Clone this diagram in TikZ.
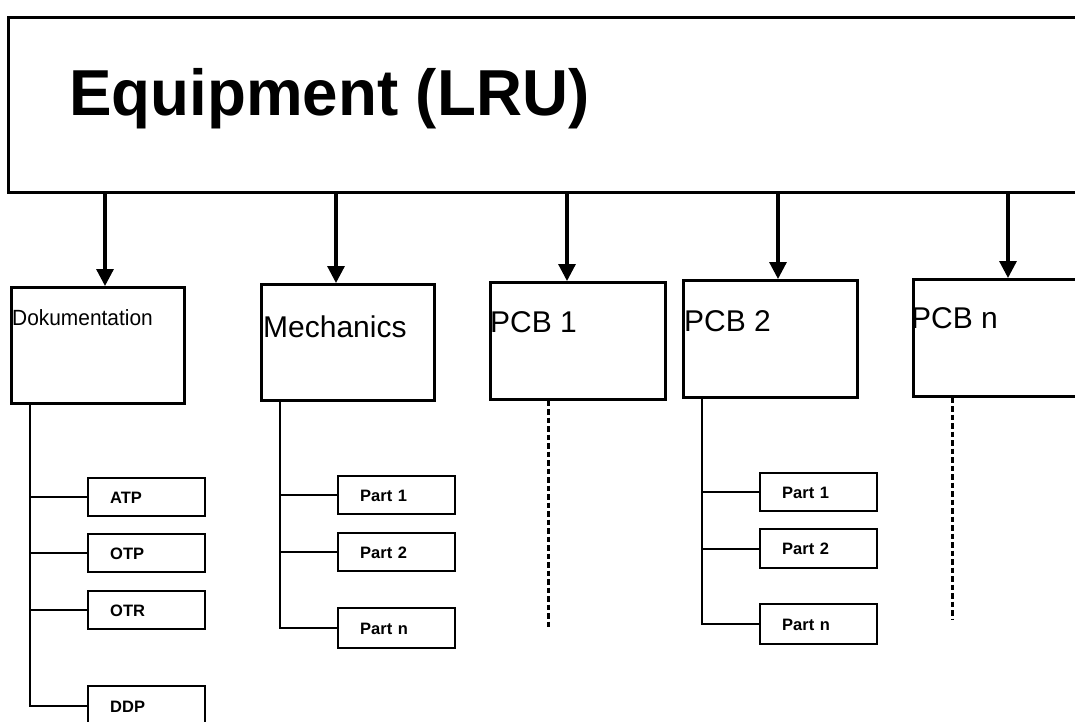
\documentclass[tikz,border=0pt]{standalone}
\usepackage{graphicx}
\usepackage{fontspec}
\setmainfont{Liberation Sans}
\usetikzlibrary{arrows.meta}
\begin{document}
\begin{tikzpicture}[x=1pt,y=-1pt,
  box/.style={draw, line width=2.6pt, rectangle, inner sep=0pt, anchor=north west},
  sub/.style={draw, line width=2.4pt, rectangle, anchor=north west, minimum height=38pt,
    inner xsep=22pt, inner ysep=0pt, text width=73pt, align=left,
    font=\bfseries\fontsize{16.5}{16.5}\selectfont, text height=12pt, text depth=0pt},
  arr/.style={line width=3.2pt, -{Triangle[length=17pt,width=17pt]}},
  tree/.style={line width=2.4pt},
  dots/.style={line width=3pt, dash pattern=on 5.5pt off 3pt},
  lbl/.style={anchor=base west, inner sep=0pt, font=\fontsize{30}{30}\selectfont}
]
\useasboundingbox (0,0) rectangle (1075,721);
\clip (0,0) rectangle (1075,721);
\fill[white] (0,0) rectangle (1075,721);

% top box
\node[box, minimum width=1100pt, minimum height=175pt] (lru) at (7,16) {};
\node[anchor=base west, inner sep=0pt, font=\bfseries\fontsize{65}{65}\selectfont] (title) at (69,115) {\scalebox{0.98}[1]{Equipment (LRU)}};

% second level boxes
\node[box, minimum width=173pt, minimum height=116pt] (doc) at (10,286) {};
\node[box, minimum width=173pt, minimum height=116pt] (mech) at (260,283) {};
\node[box, minimum width=175pt, minimum height=117pt] (pcb1) at (489,281) {};
\node[box, minimum width=174pt, minimum height=117pt] (pcb2) at (682,279) {};
\node[box, minimum width=200pt, minimum height=117pt] (pcbn) at (912,278) {};

\node[lbl, font=\fontsize{22}{22}\selectfont] (docL) at (12,325) {\scalebox{0.95}[1]{Dokumentation}};
\node[lbl] (mechL) at (263,337) {Mechanics};
\node[lbl] (pcb1L) at (490,332) {PCB 1};
\node[lbl] (pcb2L) at (684,331) {PCB 2};
\node[lbl] (pcbnL) at (911,328) {PCB n};

% arrows
\draw[arr] (105,0 |- lru.south) -- (105,0 |- doc.north);
\draw[arr] (336,0 |- lru.south) -- (336,0 |- mech.north);
\draw[arr] (567,0 |- lru.south) -- (567,0 |- pcb1.north);
\draw[arr] (778,0 |- lru.south) -- (778,0 |- pcb2.north);
\draw[arr] (1008,0 |- lru.south) -- (1008,0 |- pcbn.north);

% documentation subtree
\node[sub] (atp) at (87,477) {ATP};
\node[sub] (otp) at (87,533) {OTP};
\node[sub] (otr) at (87,590) {OTR};
\node[sub, minimum height=40pt] (ddp) at (87,685) {DDP};
\draw[tree] (30,0 |- doc.south) |- (ddp.west);
\draw[tree] (30,0 |- atp.west) -- (atp.west);
\draw[tree] (30,0 |- otp.west) -- (otp.west);
\draw[tree] (30,0 |- otr.west) -- (otr.west);

% mechanics subtree
\node[sub] (m1) at (337,475) {Part 1};
\node[sub] (m2) at (337,532) {Part 2};
\node[sub, minimum height=40pt] (mn) at (337,607) {Part n};
\draw[tree] (280,0 |- mech.south) |- (mn.west);
\draw[tree] (280,0 |- m1.west) -- (m1.west);
\draw[tree] (280,0 |- m2.west) -- (m2.west);

% PCB 2 subtree
\node[sub] (q1) at (759,472) {Part 1};
\node[sub, minimum height=39pt] (q2) at (759,528) {Part 2};
\node[sub, minimum height=40pt] (qn) at (759,603) {Part n};
\draw[tree] (702,0 |- pcb2.south) |- (qn.west);
\draw[tree] (702,0 |- q1.west) -- (q1.west);
\draw[tree] (702,0 |- q2.west) -- (q2.west);

% dotted continuations
\coordinate (pcb1end) at (548,628);
\coordinate (pcbnend) at (952,620);
\draw[dots] (548,0 |- pcb1.south) -- (pcb1end);
\draw[dots] (952,0 |- pcbn.south) -- (pcbnend);
\end{tikzpicture}
\end{document}
